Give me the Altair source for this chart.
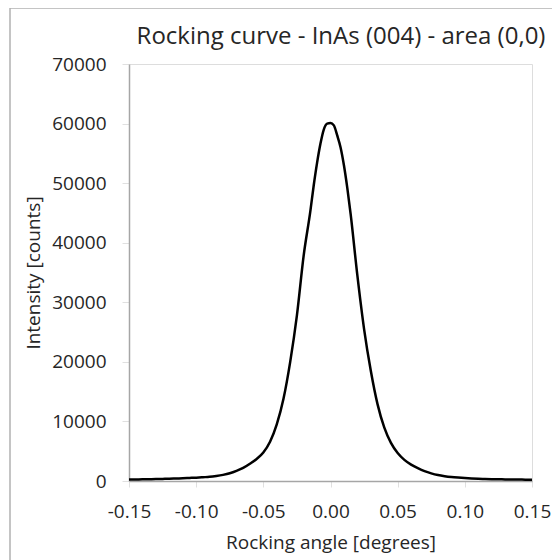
import altair as alt
import pandas as pd

angle = [-0.150, -0.145, -0.140, -0.135, -0.130, -0.125, -0.120, -0.115, -0.110, -0.105,
         -0.100, -0.095, -0.090, -0.085, -0.080, -0.075, -0.070, -0.065, -0.060, -0.055,
         -0.050, -0.045, -0.040, -0.035, -0.030, -0.025, -0.020, -0.015, -0.0125, -0.010,
         -0.0075, -0.005, -0.0025, 0.000, 0.0025, 0.005, 0.0075, 0.010, 0.0125, 0.015,
         0.020, 0.025, 0.030, 0.035, 0.040, 0.045, 0.050, 0.055, 0.060, 0.065,
         0.070, 0.075, 0.080, 0.085, 0.090, 0.095, 0.100, 0.105, 0.110, 0.115,
         0.120, 0.125, 0.130, 0.135, 0.140, 0.145, 0.150]
intensity = [250, 260, 280, 300, 320, 350, 380, 420, 460, 510,
             560, 630, 700, 840, 1030, 1300, 1700, 2200, 2900, 3700,
             4800, 6600, 9500, 13800, 20000, 27800, 37800, 45300, 49600, 53400,
             56600, 59000, 60000, 60100, 59700, 58000, 56000, 53000, 49200, 44800,
             34500, 25500, 18500, 12900, 9000, 6400, 4700, 3550, 2750, 2150,
             1650, 1280, 1000, 810, 670, 570, 490, 430, 380, 340,
             310, 290, 270, 250, 240, 230, 220]

x_ticks = [-0.15, -0.10, -0.05, 0.00, 0.05, 0.10, 0.15]
y_ticks = [0, 10000, 20000, 30000, 40000, 50000, 60000, 70000]
title_text = ["Rocking curve - InAs (004) - area (0,0)"]

df = pd.DataFrame({"angle": angle, "intensity": intensity})
tdf = pd.DataFrame({"t": title_text})

FONT = "Open Sans"
TXT = "#262626"
W, H = 403, 417

line = alt.Chart(df).mark_line(color="black", strokeWidth=2.5, interpolate="monotone").encode(
    x=alt.X("angle:Q", scale=alt.Scale(domain=[-0.15, 0.15], nice=False, zero=False),
            axis=alt.Axis(values=x_ticks, title="Rocking angle [degrees]",
                          labelExpr="replace(format(datum.value, '.2f'), '\u2212', '-')",
                          grid=False, domainColor="#a6a6a6", domainWidth=1.5,
                          tickColor="#e0e0e0", tickSize=6, labelPadding=15,
                          labelOverlap=False, labelFlush=False,
                          labelFontSize=19, titleFontSize=19, titlePadding=12,
                          labelColor=TXT, titleColor=TXT, labelFont=FONT, titleFont=FONT,
                          titleFontWeight="normal")),
    y=alt.Y("intensity:Q", scale=alt.Scale(domain=[0, 70000], nice=False),
            axis=alt.Axis(values=y_ticks, format="d", title="Intensity [counts]",
                          grid=False, domainColor="#a6a6a6", domainWidth=1.5,
                          tickColor="#e0e0e0", tickSize=7, labelPadding=16,
                          labelOverlap=False, labelFlush=False,
                          labelFontSize=19, titleFontSize=19, titlePadding=8,
                          labelColor=TXT, titleColor=TXT, labelFont=FONT, titleFont=FONT,
                          titleFontWeight="normal")),
)

title = alt.Chart(tdf).mark_text(font=FONT, fontSize=24, color=TXT, align="center",
                                 baseline="middle").encode(
    text="t:N", x=alt.value(212), y=alt.value(-27))

border_v = alt.Chart(tdf).mark_rule(color="#b0b0b0", strokeWidth=1.5).encode(
    x=alt.value(-119), y=alt.value(-56), y2=alt.value(500))
border_h = alt.Chart(tdf).mark_rule(color="#b0b0b0", strokeWidth=1.5).encode(
    x=alt.value(-119), x2=alt.value(430), y=alt.value(-56))

chart = alt.layer(border_v, border_h, title, line).properties(
    width=W, height=H,
    autosize=alt.AutoSizeParams(type="none"),
    padding={"left": 121, "top": 56, "right": 20, "bottom": 79},
).configure_view(stroke="#404040", strokeWidth=1.5).configure(background="white")

chart.save("out.html", embed_options={"renderer": "svg", "actions": False})
